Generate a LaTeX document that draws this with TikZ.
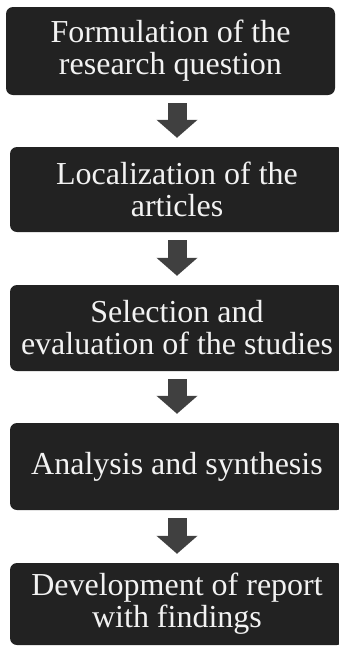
\documentclass[tikz,border=0pt]{standalone}
\usepackage{fontspec}
\setmainfont{Liberation Serif}
\usetikzlibrary{arrows.meta,calc}
\definecolor{boxgray}{HTML}{222222}
\definecolor{arrowgray}{HTML}{404040}
\tikzset{>=latex,
	stepbox/.style={rectangle, rounded corners=7pt, fill=boxgray, text=white!95!black, align=center, minimum width=334pt, inner sep=1pt, font=\fontsize{32}{32}\selectfont},
	flowarrow/.style={draw=arrowgray, line width=19pt, -{Triangle[width=40pt,length=18pt]}, shorten <=8pt, shorten >=9pt}
}

\begin{document}
\begin{tikzpicture}[x=1pt,y=1pt]
			\useasboundingbox (0,0) rectangle (338,-646);

			\node[stepbox, minimum width=329pt, minimum height=88pt] (formulation) at (170.5,-51) {Formulation of the \\ research question};

			\node[stepbox, minimum height=85pt] (localization) at (177,-189.5) {Localization of the \\ articles};
            \draw[flowarrow] (localization.north |- formulation.south) -- (localization.north);

			\node[stepbox, minimum height=86pt] (selection) at (177,-328) {Selection and \\ evaluation of the studies};
            \draw[flowarrow] (localization.south) -- (selection.north);

			\node[stepbox, minimum height=87pt] (analysis) at (177,-466.5) {Analysis and synthesis};
            \draw[flowarrow] (selection.south) -- (analysis.north);

			\node[stepbox, minimum height=82pt] (development) at (177,-604) {Development of report \\ with findings};
            \draw[flowarrow] (analysis.south) -- (development.north);
		\end{tikzpicture}
\end{document}
